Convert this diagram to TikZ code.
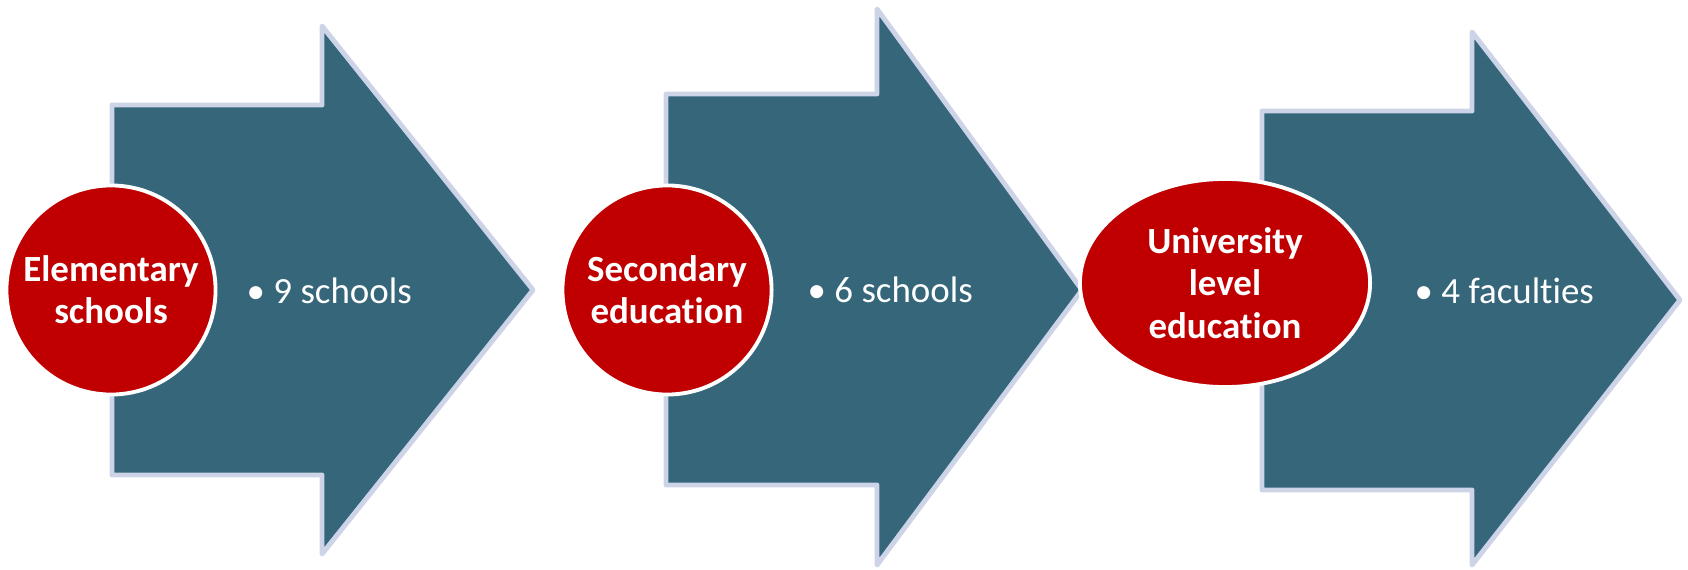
\documentclass[tikz,border=0pt]{standalone}
\usepackage{fontspec}
\setmainfont{Carlito}[Ligatures={NoCommon}]
\usetikzlibrary{shapes.geometric}
\definecolor{bleufleche}{RGB}{53,102,122}
\definecolor{bordfleche}{RGB}{205,212,232}
\definecolor{rougebulle}{RGB}{192,0,0}
\begin{document}
\begin{tikzpicture}[x=0.01cm,y=-0.01cm]
\tikzset{fleche/.style={fill=bleufleche,draw=bordfleche,line width=1.4pt,line join=round}, %style des grandes fleches
bulle/.style={circle,fill=rougebulle,draw=white,line width=1.1pt,minimum size=2.09cm,inner sep=0pt,
  align=center,text=white,font=\bfseries\fontsize{10.5}{12}\selectfont},
puce/.style={anchor=west,inner sep=0pt,text=white,font=\fontsize{10.5}{12}\selectfont}}
\useasboundingbox (0,0) rectangle (1688,570);

%premiere fleche
\draw[fleche] (112,105)--(322,105)--(322,26)--(533,290)--(322,554)--(322,475)--(112,475)--cycle;
\node[bulle] (ecole) at (111,290) {Elementary\\schools};
\node[puce] (ecole-nb) at (246,291) {• 9 schools};

%deuxieme fleche
\draw[fleche] (666,94)--(877,94)--(877,9)--(1082,290)--(877,565)--(877,485)--(666,485)--cycle;
\node[bulle] (secondaire) at (667,290) {Secondary\\education};
\node[puce] (secondaire-nb) at (807,290) {• 6 schools};

%troisieme fleche
\draw[fleche] (1262,111)--(1472,111)--(1472,32)--(1680,300)--(1472,565)--(1472,490)--(1262,490)--cycle;
\node[bulle,ellipse,minimum width=2.9cm,minimum height=2.08cm] (universite) at (1225,283) {University\\level\\education};
\node[puce] (universite-nb) at (1414,291) {• 4 faculties};
\end{tikzpicture}
\end{document}
